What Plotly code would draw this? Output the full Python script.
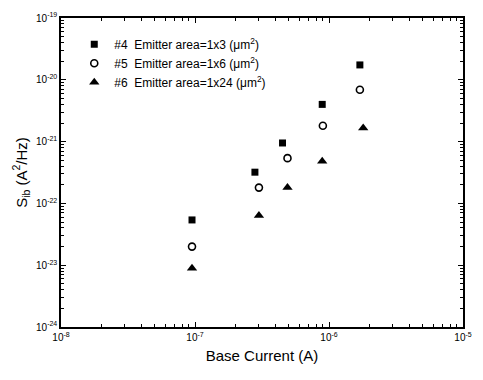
import plotly.graph_objects as go

# Data
ib_4 = [9.5e-8, 2.8e-7, 4.5e-7, 8.9e-7, 1.7e-6]
s_4 = [5.4e-23, 3.2e-22, 9.5e-22, 4.0e-21, 1.74e-20]
ib_5 = [9.5e-8, 3.0e-7, 4.9e-7, 9.0e-7, 1.7e-6]
s_5 = [2.0e-23, 1.8e-22, 5.4e-22, 1.8e-21, 6.9e-21]
ib_6 = [9.5e-8, 3.0e-7, 4.9e-7, 8.9e-7, 1.8e-6]
s_6 = [8.9e-24, 6.4e-23, 1.8e-22, 4.8e-22, 1.66e-21]

names = ["#4  Emitter area=1x3 (\u03bcm<sup>2</sup>)",
         "#5  Emitter area=1x6 (\u03bcm<sup>2</sup>)",
         "#6  Emitter area=1x24 (\u03bcm<sup>2</sup>)"]

x_decades = [-8, -7, -6, -5]
y_decades = [-24, -23, -22, -21, -20, -19]
x_tickvals = [10.0 ** d for d in x_decades]
x_ticktext = ["10<sup>%d</sup>" % d for d in x_decades]
y_tickvals = [10.0 ** d for d in y_decades]
y_ticktext = ["10<sup>%d</sup>" % d for d in y_decades]
x_minor = [m * 10.0 ** d for d in x_decades[:-1] for m in range(2, 10)]
y_minor = [m * 10.0 ** d for d in y_decades[:-1] for m in range(2, 10)]

FONT = "Liberation Sans, Arial, sans-serif"

fig = go.Figure()
fig.add_trace(go.Scatter(x=ib_4, y=s_4, mode="markers", name=names[0],
                         marker=dict(symbol="square", size=7, color="black")))
fig.add_trace(go.Scatter(x=ib_5, y=s_5, mode="markers", name=names[1],
                         marker=dict(symbol="circle-open", size=7, color="black",
                                     line=dict(width=1.6, color="black"))))
fig.add_trace(go.Scatter(x=ib_6, y=s_6, mode="markers", name=names[2],
                         marker=dict(symbol="triangle-up", size=9, color="black")))

axis_common = dict(
    type="log", showgrid=False, zeroline=False,
    showline=True, linecolor="black", linewidth=1.5, mirror="ticks",
    ticks="inside", ticklen=5, tickwidth=1.2, tickcolor="black",
    tickfont=dict(family=FONT, size=10, color="black"),
)

fig.update_xaxes(**axis_common, range=[-8, -5], tickmode="array",
                 tickvals=x_tickvals, ticktext=x_ticktext,
                 minor=dict(ticks="inside", ticklen=3, tickwidth=1, tickcolor="black",
                            tickmode="array", tickvals=x_minor, showgrid=False),
                 title=dict(text="Base Current (A)", standoff=9,
                            font=dict(family=FONT, size=15, color="black")))
fig.update_yaxes(**axis_common, range=[-24, -19], tickmode="array",
                 tickvals=y_tickvals, ticktext=y_ticktext,
                 minor=dict(ticks="inside", ticklen=3, tickwidth=1, tickcolor="black",
                            tickmode="array", tickvals=y_minor, showgrid=False),
                 title=dict(text="S<sub>ib</sub> (A<sup>2</sup>/Hz)", standoff=5,
                            font=dict(family=FONT, size=15, color="black")))

fig.update_layout(
    width=483, height=380,
    margin=dict(l=61, r=20, t=11, b=53),
    paper_bgcolor="white", plot_bgcolor="white",
    showlegend=True,
    legend=dict(x=0.033, y=0.962, xanchor="left", yanchor="top",
                bgcolor="rgba(0,0,0,0)", tracegroupgap=0, itemwidth=30,
                font=dict(family=FONT, size=12, color="black")),
)

fig.write_html("out.html", config={"displayModeBar": False},
               post_script="document.body.style.margin='0';")
